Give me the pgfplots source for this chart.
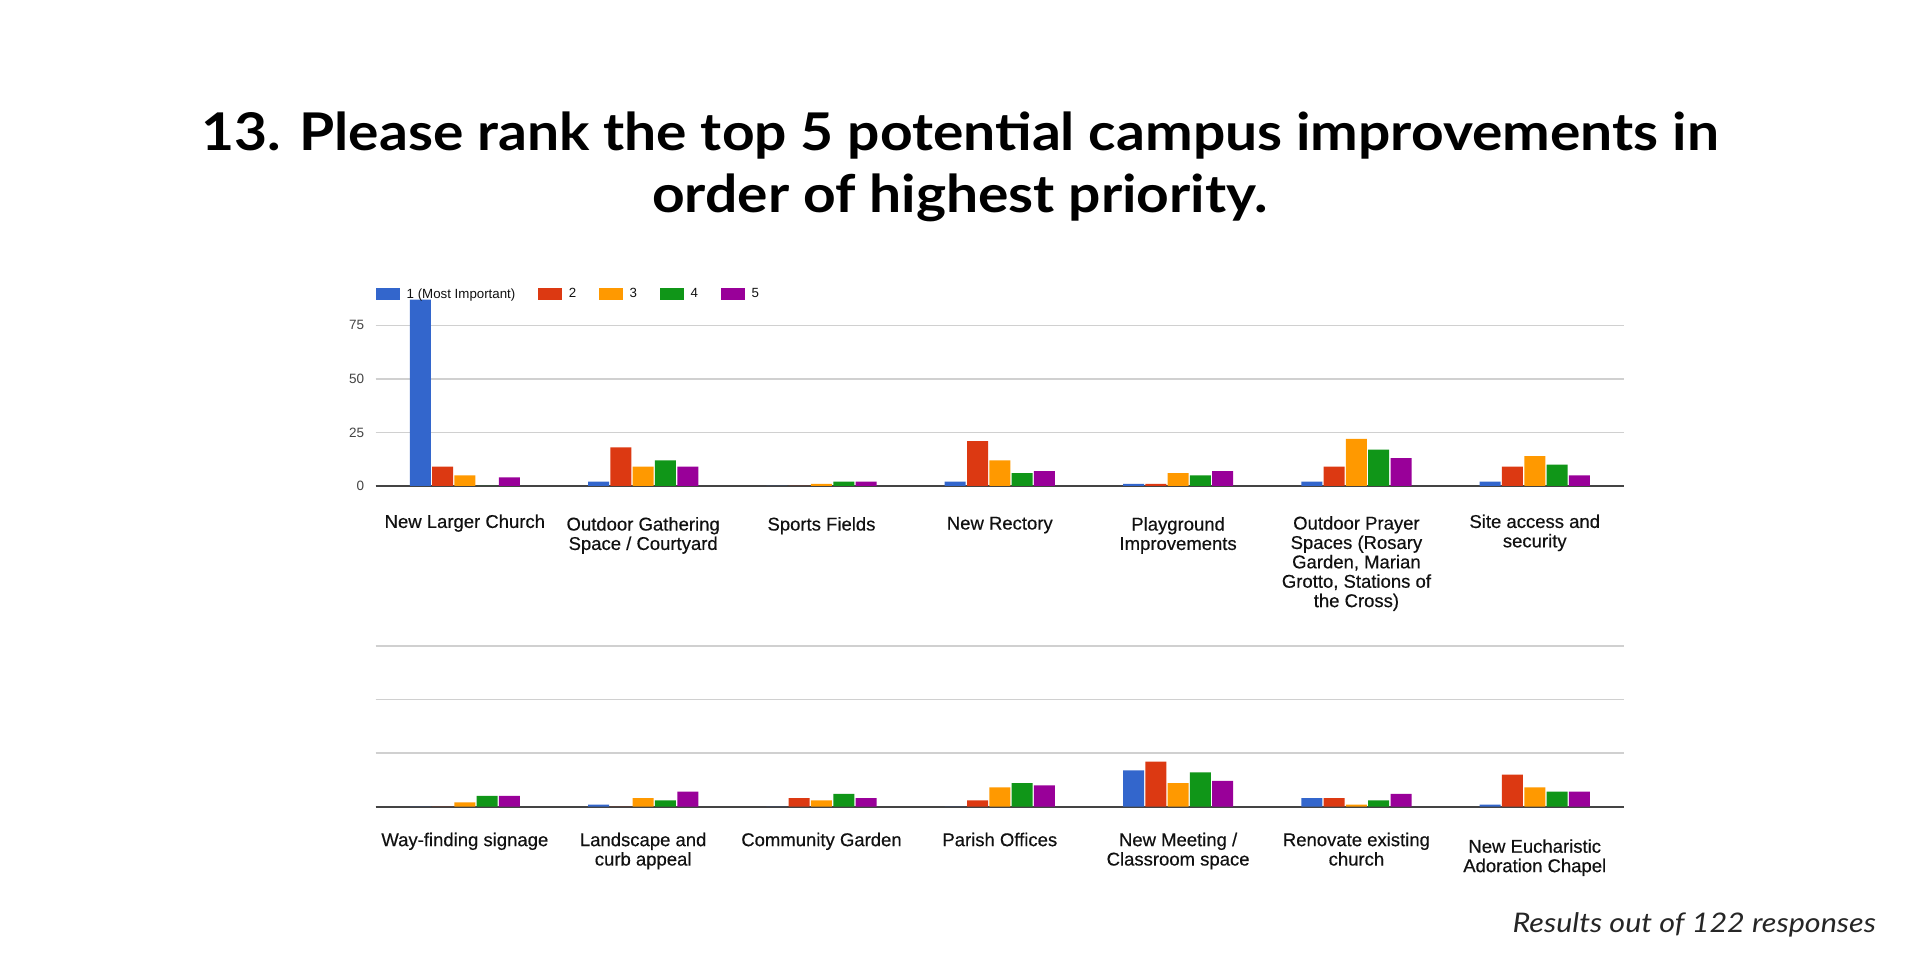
\documentclass[border=0pt]{standalone}
\usepackage{fontspec}
\usepackage{pgfplots}
\pgfplotsset{compat=1.18}
\setmainfont{Liberation Sans}
\newfontfamily\titlefam[FakeStretch=1.095]{Lato}
\newfontfamily\footfam[FakeStretch=1.13]{Lato}
\newfontfamily\labfont[FakeBold=0.4]{Liberation Sans}
\newfontfamily\tickfont{Liberation Sans}
\definecolor{gblue}{HTML}{3366CC}
\definecolor{gred}{HTML}{DC3912}
\definecolor{gorange}{HTML}{FF9900}
\definecolor{ggreen}{HTML}{109618}
\definecolor{gpurple}{HTML}{990099}
\definecolor{gridcol}{HTML}{D0D0D0}
\definecolor{axiscol}{HTML}{444444}
\definecolor{tickcol}{HTML}{444444}
\definecolor{labcol}{HTML}{111111}

\pgfplotsset{
  gchart/.style={
    scale only axis,
    width=1248.3pt, height=186.4pt,
    xmin=-0.5, xmax=6.5, ymin=0, ymax=87,
    clip=false,
    ybar=1.3pt, bar width=21pt,
    axis x line*=bottom, axis y line*=left,
    x axis line style={-, draw=axiscol, line width=1.8pt},
    y axis line style={draw=none},
    major tick length=0pt,
    xtick={0,1,2,3,4,5,6},
    ytick={0,25,50,75},
    ymajorgrids, grid style={gridcol, line width=1.6pt},
    /pgf/number format/assume math mode=true,
    yticklabel style={font=\tickfont\fontsize{13.5pt}{15pt}\selectfont, text=tickcol, xshift=-8pt},
    xticklabel style={font=\labfont\fontsize{18.5pt}{19.4pt}\selectfont, text=labcol, align=center, anchor=north, yshift=-25pt},
    every axis plot/.append style={draw=none},
  }
}

\begin{document}
\begin{tikzpicture}[x=1pt,y=1pt]
\path[use as bounding box, fill=white] (0,0) rectangle (1920,970);

\node[anchor=base, font=\titlefam\bfseries\fontsize{52pt}{60pt}\selectfont, inner sep=0pt] at (960,819) {13. Please rank the top 5 potential campus improvements in};
\node[anchor=base, font=\titlefam\bfseries\fontsize{52pt}{60pt}\selectfont, inner sep=0pt] at (960,757) {order of highest priority.};

% top chart
\begin{axis}[gchart,
  at={(375.7pt,484pt)}, anchor=south west,
  xticklabels={{New Larger Church},{\rule{0pt}{16pt}Outdoor Gathering\\Space / Courtyard},{\rule{0pt}{16pt}Sports Fields},{\rule{0pt}{15pt}New Rectory},{\rule{0pt}{16pt}Playground\\Improvements},{\rule{0pt}{15pt}Outdoor Prayer\\Spaces (Rosary\\Garden, Marian\\Grotto, Stations of\\the Cross)},{Site access and\\security}},
  legend columns=-1,
  legend image code/.code={\fill[#1] (0pt,-6pt) rectangle (24pt,6pt); \path (31pt,0pt);},
  legend style={at={(axis description cs:0,1)}, anchor=west, yshift=5.6pt,
    draw=none, fill=none, inner sep=0pt, outer sep=0pt,
    font=\tickfont\fontsize{13.3pt}{15pt}\selectfont, text=labcol,
    nodes={inner xsep=0pt, inner ysep=1pt},
    /tikz/every even column/.append style={column sep=22.5pt}},
]
\addplot[fill=gblue] coordinates {(0,87) (1,2) (2,0) (3,2) (4,1) (5,2) (6,2)};
\addplot[fill=gred] coordinates {(0,9) (1,18) (2,0) (3,21) (4,1) (5,9) (6,9)};
\addplot[fill=gorange] coordinates {(0,5) (1,9) (2,1) (3,12) (4,6) (5,22) (6,14)};
\addplot[fill=ggreen] coordinates {(0,0) (1,12) (2,2) (3,6) (4,5) (5,17) (6,10)};
\addplot[fill=gpurple] coordinates {(0,4) (1,9) (2,2) (3,7) (4,7) (5,13) (6,5)};
\legend{1 (Most Important),2,3,4,5}
\end{axis}

% bottom chart
\begin{axis}[gchart,
  at={(375.7pt,163.3pt)}, anchor=south west,
  yticklabels={,,,},
  xticklabel style={yshift=2.5pt},
  xticklabels={{Way-finding signage},{Landscape and\\curb appeal},{Community Garden},{\rule{0pt}{12pt}Parish Offices},{New Meeting /\\Classroom space},{Renovate existing\\church},{\rule{0pt}{20pt}New Eucharistic\\Adoration Chapel}},
]
\addplot[fill=gblue] coordinates {(0,0) (1,1) (2,0) (3,0) (4,17) (5,4) (6,1)};
\addplot[fill=gred] coordinates {(0,0) (1,0) (2,4) (3,3) (4,21) (5,4) (6,15)};
\addplot[fill=gorange] coordinates {(0,2) (1,4) (2,3) (3,9) (4,11) (5,1) (6,9)};
\addplot[fill=ggreen] coordinates {(0,5) (1,3) (2,6) (3,11) (4,16) (5,3) (6,7)};
\addplot[fill=gpurple] coordinates {(0,5) (1,7) (2,4) (3,10) (4,12) (5,6) (6,7)};
\end{axis}

\node[anchor=base east, font=\footfam\itshape\fontsize{27pt}{30pt}\selectfont, text=black!85, inner sep=0pt] at (1876,38) {Results out of 122 responses};
\end{tikzpicture}
\end{document}
